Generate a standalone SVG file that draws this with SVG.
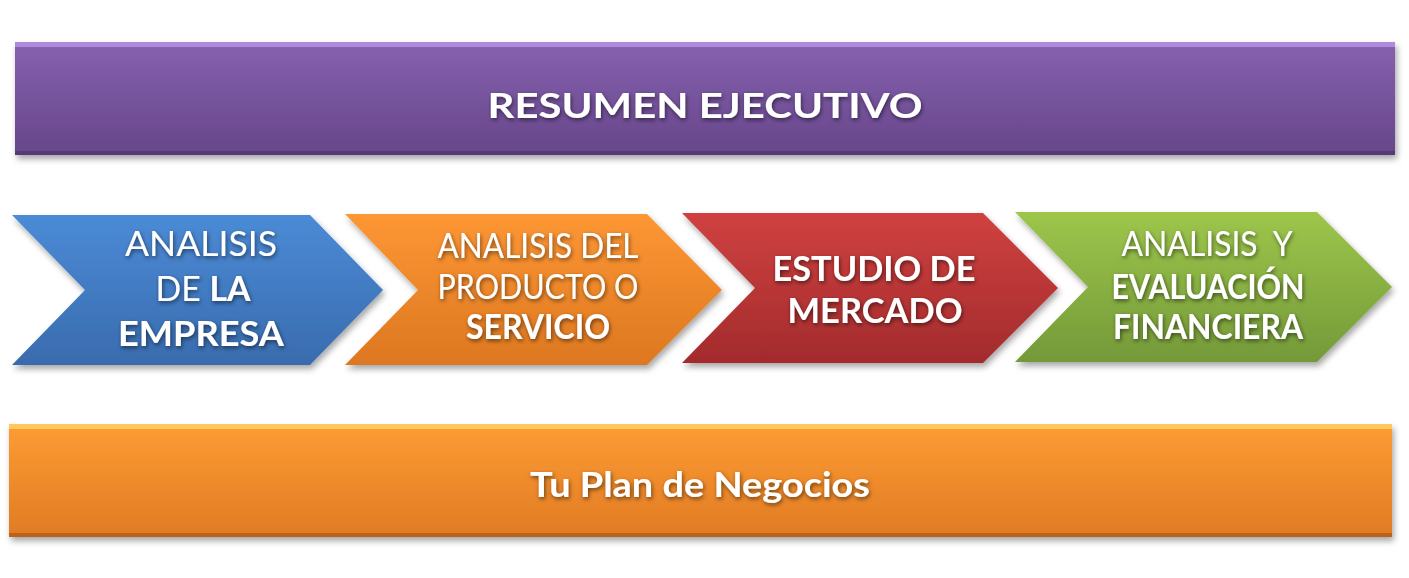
<svg xmlns="http://www.w3.org/2000/svg" width="1409" height="578" viewBox="0 0 1409 578">
<style>
text{font-family:Lato,"Open Sans","Liberation Sans",sans-serif;fill:#fff;text-anchor:middle;filter:url(#ts)}
.r{font-weight:400;font-size:34px}
.b{font-weight:700;font-size:35px}
.shape{filter:url(#ds)}
</style>
<defs>
<filter id="ds" x="-5%" y="-10%" width="110%" height="130%">
<feDropShadow dx="2" dy="4" stdDeviation="3" flood-color="#000" flood-opacity="0.35"/>
</filter>
<filter id="ts" x="-10%" y="-30%" width="120%" height="160%">
<feDropShadow dx="1" dy="2" stdDeviation="2" flood-color="#000" flood-opacity="0.55"/>
</filter>
<linearGradient id="gP" x1="0" y1="0" x2="0" y2="1"><stop offset="0" stop-color="#8661b0"/><stop offset="1" stop-color="#664689"/></linearGradient>
<linearGradient id="gB" x1="0" y1="0" x2="0" y2="1"><stop offset="0" stop-color="#4b8bd6"/><stop offset="1" stop-color="#396bae"/></linearGradient>
<linearGradient id="gO" x1="0" y1="0" x2="0" y2="1"><stop offset="0" stop-color="#fd9734"/><stop offset="1" stop-color="#dd7721"/></linearGradient>
<linearGradient id="gR" x1="0" y1="0" x2="0" y2="1"><stop offset="0" stop-color="#d04141"/><stop offset="1" stop-color="#a32b2c"/></linearGradient>
<linearGradient id="gG" x1="0" y1="0" x2="0" y2="1"><stop offset="0" stop-color="#9dc64b"/><stop offset="1" stop-color="#749939"/></linearGradient>
<linearGradient id="gO2" x1="0" y1="0" x2="0" y2="1"><stop offset="0" stop-color="#fe9c33"/><stop offset="1" stop-color="#e07b24"/></linearGradient>
</defs>

<g id="resumen">
<rect class="shape" x="15" y="42" width="1380" height="113" fill="url(#gP)"/>
<rect x="15" y="42" width="1380" height="5" fill="#b995e6" opacity="0.8"/>
<rect x="15" y="151" width="1380" height="4" fill="#4e346d" opacity="0.7"/>
<text class="b" x="705" y="118" font-size="50" textLength="435" lengthAdjust="spacingAndGlyphs">RESUMEN EJECUTIVO</text>
</g>

<g id="empresa">
<polygon class="shape" points="12,215 310,215 383,290 310,365 12,365 85,290" fill="url(#gB)"/>
<text class="r" x="201" y="256" textLength="152" lengthAdjust="spacingAndGlyphs">ANALISIS</text>
<text x="203" y="301" class="r" textLength="95" lengthAdjust="spacingAndGlyphs">DE <tspan font-weight="700">LA</tspan></text>
<text class="b" x="201" y="346" textLength="166" lengthAdjust="spacingAndGlyphs">EMPRESA</text>
</g>

<g id="producto">
<polygon class="shape" points="345,214 647,214 722,290 647,365 345,365 418,290" fill="url(#gO)"/>
<text class="r" x="538" y="258" textLength="201" lengthAdjust="spacingAndGlyphs">ANALISIS DEL</text>
<text class="r" x="538" y="299" textLength="201" lengthAdjust="spacingAndGlyphs">PRODUCTO O</text>
<text class="b" x="538" y="339" textLength="144" lengthAdjust="spacingAndGlyphs">SERVICIO</text>
</g>

<g id="mercado">
<polygon class="shape" points="682,213 983,213 1058,288 983,363 682,363 755,288" fill="url(#gR)"/>
<text class="b" x="874" y="281" textLength="203" lengthAdjust="spacingAndGlyphs">ESTUDIO DE</text>
<text class="b" x="875" y="323" textLength="175" lengthAdjust="spacingAndGlyphs">MERCADO</text>
</g>

<g id="financiera">
<polygon class="shape" points="1015,212 1317,212 1392,287 1317,362 1015,362 1088,287" fill="url(#gG)"/>
<text class="r" x="1207" y="256" textLength="171" lengthAdjust="spacingAndGlyphs" xml:space="preserve">ANALISIS  Y</text>
<text class="b" x="1208" y="299" textLength="193" lengthAdjust="spacingAndGlyphs">EVALUACIÓN</text>
<text class="b" x="1208" y="339" textLength="190" lengthAdjust="spacingAndGlyphs">FINANCIERA</text>
</g>

<g id="plan">
<rect class="shape" x="9" y="424" width="1383" height="113" fill="url(#gO2)"/>
<rect x="9" y="424" width="1383" height="5" fill="#ffd36a" opacity="0.8"/>
<rect x="9" y="533" width="1383" height="4" fill="#a8581a" opacity="0.7"/>
<text class="b" x="700" y="497" font-size="44" textLength="340" lengthAdjust="spacingAndGlyphs">Tu Plan de Negocios</text>
</g>

<g id="connectors"/>
</svg>
